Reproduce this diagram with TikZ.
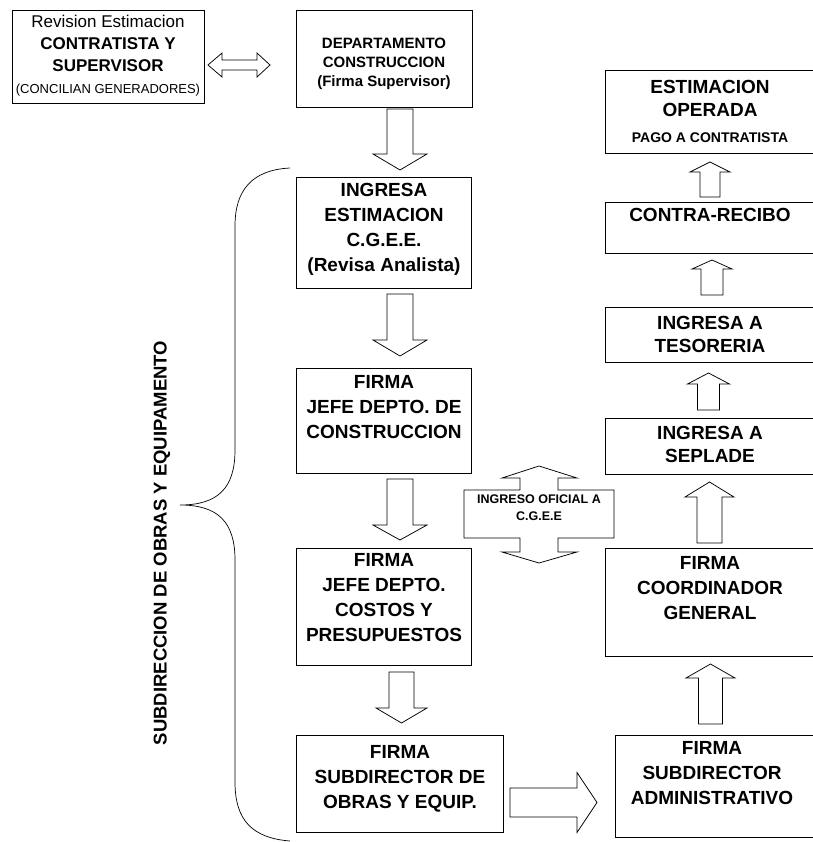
\documentclass[tikz,border=0pt]{standalone}
\usepackage{fontspec}
\setmainfont{Liberation Sans}
\newcommand\blkv[6]{% cx, shaft end, head base, tip, shaft half, head half
  \draw[blk] ({#1-#5},#2) -- ({#1+#5},#2) -- ({#1+#5},#3) -- ({#1+#6},#3) -- (#1,#4) -- ({#1-#6},#3) -- ({#1-#5},#3) -- cycle;}
\newcommand\blkh[6]{% cy, shaft end, head base, tip, shaft half, head half
  \draw[blk] (#2,{#1-#5}) -- (#2,{#1+#5}) -- (#3,{#1+#5}) -- (#3,{#1+#6}) -- (#4,#1) -- (#3,{#1-#6}) -- (#3,{#1-#5}) -- cycle;}
\tikzset{
  box/.style={draw, line width=1pt, inner sep=0pt, anchor=north west},
  blk/.style={draw, line width=0.75pt, fill=white, line join=miter},
  txt/.style={anchor=north, align=center, inner sep=0pt},
  big/.style={font=\fontsize{19}{25}\selectfont\bfseries},
}
\begin{document}
\begin{tikzpicture}[x=1pt,y=-1pt]
\useasboundingbox (0,0) rectangle (812,842);
% ---------- boxes ----------
\node[box, minimum width=192pt, minimum height=93pt] (rev) at (12,10) {};
\node[box, minimum width=176pt, minimum height=97pt] (dept) at (296,10) {};
\node[box, minimum width=175pt, minimum height=111pt] (ing) at (296,177) {};
\node[box, minimum width=175pt, minimum height=105pt] (jcons) at (296,368) {};
\node[box, minimum width=175pt, minimum height=117pt] (jcost) at (296,548) {};
\node[box, minimum width=207pt, minimum height=97pt] (sdo) at (296,735) {};
\node[box, minimum width=209pt, minimum height=83pt] (oper) at (605,70) {};
\node[box, minimum width=209pt, minimum height=51pt] (contra) at (605,202) {};
\node[box, minimum width=209pt, minimum height=55pt] (teso) at (605,307) {};
\node[box, minimum width=209pt, minimum height=56pt] (sepl) at (605,418) {};
\node[box, minimum width=209pt, minimum height=108pt] (coord) at (605,548) {};
\node[box, minimum width=199pt, minimum height=102pt] (sda) at (615,735) {};
% ---------- texts ----------
\node[txt, font=\fontsize{17}{22}\selectfont] (revt) at (108,15)
  {Revision Estimacion\\\textbf{CONTRATISTA Y}\\\textbf{SUPERVISOR}\\{\fontsize{13}{22}\selectfont (CONCILIAN GENERADORES)}};
\node[txt, font=\fontsize{15}{19}\selectfont\bfseries] (deptt) at (384,38)
  {DEPARTAMENTO\\CONSTRUCCION\\(Firma Supervisor)};
\node[txt, big] (ingt) at (384,183) {INGRESA\\ESTIMACION\\C.G.E.E.\\(Revisa Analista)};
\node[txt, big] (jconst) at (384,375) {FIRMA\\JEFE DEPTO. DE\\CONSTRUCCION};
\node[txt, big] (jcostt) at (384,553) {FIRMA\\JEFE DEPTO.\\COSTOS Y\\PRESUPUESTOS};
\node[txt, big] (sdot) at (400,745) {FIRMA\\SUBDIRECTOR DE\\OBRAS Y EQUIP.};
\node[txt, font=\fontsize{19}{23}\selectfont\bfseries] (opert) at (710,80)
  {ESTIMACION\\OPERADA\\[3pt]{\fontsize{14}{23}\selectfont PAGO A CONTRATISTA}};
\node[txt, big] (contrat) at (710,208) {CONTRA-RECIBO};
\node[txt, font=\fontsize{19}{23}\selectfont\bfseries] (tesot) at (710,316) {INGRESA A\\TESORERIA};
\node[txt, font=\fontsize{19}{23}\selectfont\bfseries] (seplt) at (710,426) {INGRESA A\\SEPLADE};
\node[txt, big] (coordt) at (710,556) {FIRMA\\COORDINADOR\\GENERAL};
\node[txt, big] (sdat) at (712,741) {FIRMA\\SUBDIRECTOR\\ADMINISTRATIVO};
% ---------- block arrows ----------
\draw[blk] (208,65) -- (222,53) -- (222,60) -- (257,60) -- (257,53) -- (270,65)
  -- (257,77) -- (257,70) -- (222,70) -- (222,77) -- cycle;
\blkv{400}{109}{154}{170}{13}{27}
\blkv{400}{294}{340}{356}{13}{27}
\blkv{400}{479}{525}{540}{13}{27}
\blkv{401.5}{672}{708}{723}{12.5}{25.5}
\blkh{802.5}{510}{577}{597}{14.5}{30}
\blkv{710}{197}{172}{162}{10}{20}
\blkv{712}{295}{269}{260}{11}{20}
\blkv{708.5}{410}{384}{373}{11}{21}
\blkv{709.5}{543}{497}{482}{12.5}{24.5}
\blkv{710.5}{724}{678}{664}{12}{24.5}
% ---------- callout double arrow ----------
\draw[blk] (539,466) -- (577,478) -- (558,478) -- (558,490) -- (614,490) -- (614,538)
  -- (558,538) -- (558,552) -- (577,552) -- (539,563) -- (502,552) -- (520,552)
  -- (520,538) -- (464,538) -- (464,490) -- (520,490) -- (520,478) -- (502,478) -- cycle;
\node[txt, font=\fontsize{12.5}{17}\selectfont\bfseries] (ingof) at (539,495) {INGRESO OFICIAL A\\C.G.E.E};
% ---------- brace ----------
\draw[line width=0.7pt] (290,168) .. controls (252,170) and (235,190) .. (235,226)
  -- (235,450) .. controls (235,488) and (218,505) .. (180,505)
  .. controls (218,505) and (235,522) .. (235,560)
  -- (235,782) .. controls (235,820) and (252,838) .. (290,841);
\node[rotate=90, inner sep=0pt, font=\fontsize{18.5}{22}\selectfont\bfseries] (subd) at (162,543)
  {SUBDIRECCION DE OBRAS Y EQUIPAMENTO};
\end{tikzpicture}
\end{document}
